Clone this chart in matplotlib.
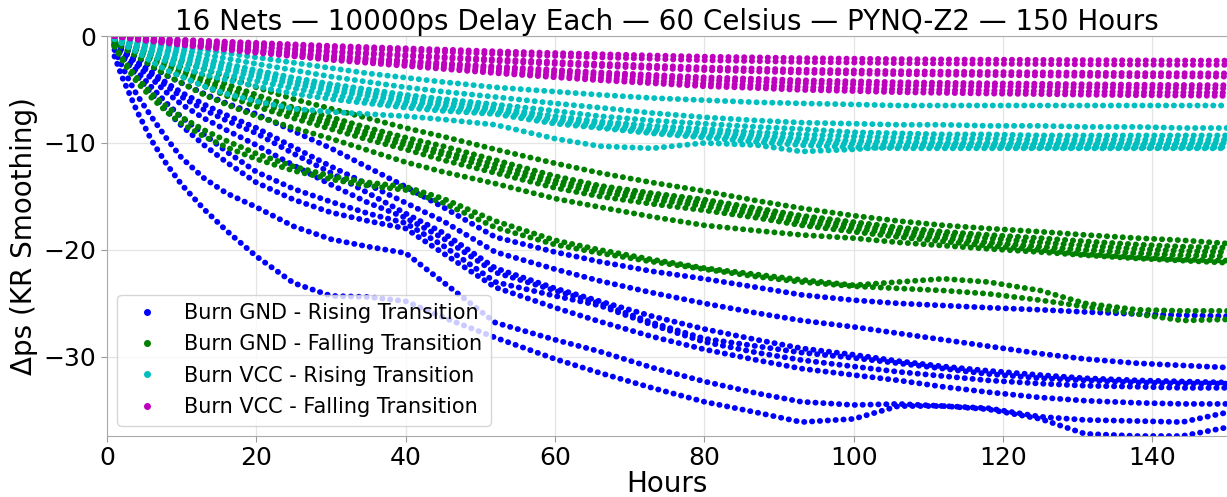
import matplotlib
matplotlib.use('Agg')
import matplotlib.pyplot as plt
from matplotlib.lines import Line2D

hours = [1, 2, 3, 4, 6, 8, 10, 13, 16, 20, 25, 30, 35, 40, 45, 52, 60, 66, 73, 80,
         87, 93, 100, 106, 112, 118, 125, 131, 138, 144, 150]

# Burn GND - Rising Transition (blue)
gnd_rise = [
    [-0.6, -1.0, -1.5, -2.0, -2.9, -3.7, -4.4, -5.4, -6.3, -7.3, -8.9, -10.5, -12.3, -14.1, -16.0, -18.8, -20.2, -21.1, -22.0, -22.7, -23.5, -24.2, -24.7, -25.0, -25.2, -25.4, -25.6, -25.8, -26.0, -26.1, -26.2],
    [-0.7, -1.2, -1.8, -2.4, -3.4, -4.4, -5.3, -6.4, -7.4, -8.6, -10.4, -12.2, -13.9, -15.6, -17.3, -20.2, -21.8, -22.9, -24.0, -25.0, -25.9, -26.6, -27.2, -27.8, -28.4, -29.0, -29.7, -30.2, -30.6, -30.8, -31.0],
    [-0.8, -1.3, -1.9, -2.5, -3.6, -4.7, -5.7, -6.9, -7.9, -9.1, -11.0, -12.8, -14.7, -16.6, -18.4, -21.7, -23.6, -24.8, -26.2, -27.4, -28.4, -29.2, -29.8, -30.4, -30.9, -31.3, -31.7, -32.0, -32.2, -32.3, -32.4],
    [-0.8, -1.4, -2.1, -2.8, -4.0, -5.3, -6.4, -7.7, -8.8, -10.2, -12.1, -13.9, -15.6, -17.0, -18.9, -22.1, -23.8, -25.0, -26.8, -28.3, -29.0, -29.6, -30.1, -30.6, -31.1, -31.6, -32.0, -32.2, -32.4, -32.5, -32.5],
    [-0.9, -1.7, -2.5, -3.3, -4.8, -6.3, -7.6, -9.2, -10.8, -12.7, -14.3, -15.5, -16.6, -17.5, -19.6, -23.0, -24.3, -25.2, -27.0, -28.6, -29.6, -30.3, -30.9, -31.4, -31.8, -32.2, -32.5, -32.7, -32.8, -32.9, -32.9],
    [-1.0, -1.9, -2.8, -3.7, -5.4, -7.0, -8.4, -10.2, -11.8, -13.7, -15.3, -16.5, -17.3, -18.0, -20.3, -23.5, -25.4, -26.7, -28.1, -29.3, -30.3, -31.1, -31.7, -32.2, -32.8, -33.3, -33.8, -34.1, -34.3, -34.4, -34.4],
    [-1.3, -2.8, -4.2, -5.5, -7.6, -9.6, -11.4, -13.3, -14.7, -16.0, -17.8, -19.0, -19.7, -20.3, -23.0, -26.8, -28.4, -29.5, -31.0, -32.3, -33.4, -34.2, -34.5, -34.4, -34.6, -34.8, -35.6, -35.9, -36.0, -36.1, -35.2],
    [-1.9, -3.8, -5.4, -7.0, -9.8, -12.0, -13.9, -16.2, -18.2, -20.6, -23.1, -24.3, -24.4, -24.8, -26.3, -28.2, -30.2, -31.5, -32.9, -34.2, -35.2, -36.1, -35.8, -34.6, -34.6, -34.9, -35.8, -37.2, -37.4, -37.4, -36.6],
]

# Burn GND - Falling Transition (green)
gnd_fall = [
    [-0.2, -0.5, -0.7, -1.0, -1.5, -2.0, -2.4, -3.1, -3.8, -4.8, -5.9, -6.8, -7.7, -8.6, -9.4, -10.6, -11.9, -12.8, -13.7, -14.5, -15.4, -16.1, -16.8, -17.3, -17.7, -18.0, -18.3, -18.6, -18.9, -19.1, -19.4],
    [-0.3, -0.6, -0.9, -1.2, -1.8, -2.4, -2.9, -3.7, -4.5, -5.5, -6.7, -7.6, -8.6, -9.5, -10.3, -11.6, -13.1, -14.0, -14.7, -15.3, -16.1, -16.8, -17.4, -17.9, -18.3, -18.6, -18.9, -19.2, -19.5, -19.7, -19.8],
    [-0.3, -0.7, -1.0, -1.3, -2.0, -2.6, -3.2, -4.1, -4.9, -5.9, -7.0, -8.0, -9.0, -9.9, -10.8, -12.0, -13.5, -14.3, -15.0, -15.6, -16.4, -17.1, -17.7, -18.2, -18.6, -18.9, -19.3, -19.6, -19.9, -20.1, -20.2],
    [-0.4, -0.8, -1.1, -1.5, -2.2, -2.9, -3.5, -4.4, -5.2, -6.2, -7.3, -8.3, -9.3, -10.2, -11.1, -12.4, -13.8, -14.6, -15.3, -15.9, -16.7, -17.4, -18.0, -18.5, -18.9, -19.3, -19.7, -20.0, -20.3, -20.5, -20.6],
    [-0.4, -0.9, -1.2, -1.6, -2.4, -3.2, -3.8, -4.7, -5.6, -6.6, -7.7, -8.7, -9.7, -10.6, -11.6, -12.8, -14.2, -15.0, -15.7, -16.3, -17.0, -17.7, -18.3, -18.8, -19.2, -19.6, -20.0, -20.4, -20.7, -20.9, -21.0],
    [-0.5, -1.0, -1.5, -1.9, -2.8, -3.7, -4.4, -5.5, -6.4, -7.5, -8.6, -9.6, -10.7, -11.8, -12.7, -13.8, -15.2, -16.0, -16.9, -17.7, -18.2, -18.6, -18.9, -19.3, -19.6, -19.9, -20.2, -20.5, -20.8, -21.0, -21.2],
    [-0.9, -2.0, -3.0, -3.9, -5.4, -6.6, -7.6, -8.8, -9.8, -11.0, -12.2, -13.1, -13.7, -14.1, -15.2, -17.3, -19.1, -20.0, -20.9, -21.7, -22.3, -22.8, -23.3, -23.0, -22.7, -23.0, -23.8, -25.0, -25.6, -25.7, -25.7],
    [-1.0, -2.2, -3.3, -4.3, -5.8, -7.1, -8.2, -9.4, -10.4, -11.5, -12.6, -13.4, -14.0, -14.4, -15.6, -17.9, -19.5, -20.3, -21.1, -21.8, -22.5, -23.0, -23.4, -23.6, -23.8, -24.1, -24.7, -25.3, -26.0, -26.6, -26.5],
]

# Burn VCC - Rising Transition (cyan)
vcc_rise = [
    [-0.1, -0.2, -0.3, -0.4, -0.6, -0.8, -1.0, -1.3, -1.6, -2.0, -2.5, -3.0, -3.5, -3.9, -4.3, -4.8, -5.2, -5.5, -5.8, -6.0, -6.2, -6.3, -6.4, -6.5, -6.5, -6.5, -6.5, -6.5, -6.5, -6.5, -6.5],
    [-0.1, -0.3, -0.4, -0.5, -0.8, -1.0, -1.3, -1.7, -2.1, -2.6, -3.2, -3.8, -4.3, -4.8, -5.2, -5.7, -6.3, -6.7, -7.2, -7.6, -7.9, -8.1, -8.2, -8.3, -8.3, -8.4, -8.4, -8.5, -8.5, -8.6, -8.6],
    [-0.1, -0.3, -0.5, -0.7, -1.0, -1.3, -1.6, -2.1, -2.6, -3.2, -3.9, -4.5, -5.0, -5.5, -5.9, -6.4, -7.0, -7.5, -7.9, -8.2, -8.5, -8.7, -9.0, -9.1, -9.2, -9.2, -9.3, -9.3, -9.3, -9.3, -9.3],
    [-0.1, -0.3, -0.6, -0.8, -1.2, -1.5, -1.9, -2.4, -2.9, -3.5, -4.2, -4.8, -5.3, -5.8, -6.2, -6.7, -7.5, -8.0, -8.4, -8.7, -9.0, -9.2, -9.4, -9.5, -9.6, -9.6, -9.7, -9.7, -9.7, -9.7, -9.7],
    [-0.2, -0.4, -0.7, -0.9, -1.4, -1.8, -2.2, -2.7, -3.2, -3.8, -4.5, -5.1, -5.6, -6.1, -6.5, -6.9, -7.8, -8.2, -8.7, -9.0, -9.3, -9.6, -9.8, -9.9, -10.0, -10.0, -10.0, -10.0, -10.0, -10.0, -10.0],
    [-0.2, -0.4, -0.8, -1.0, -1.6, -2.1, -2.6, -3.1, -3.6, -4.2, -4.9, -5.5, -6.0, -6.4, -6.8, -7.1, -8.0, -8.5, -8.9, -9.3, -9.6, -9.9, -10.1, -10.2, -10.2, -10.2, -10.2, -10.2, -10.2, -10.2, -10.2],
    [-0.2, -0.5, -0.9, -1.2, -1.9, -2.4, -3.0, -3.6, -4.1, -4.7, -5.4, -5.9, -6.3, -6.7, -7.0, -7.3, -8.2, -8.6, -9.1, -9.5, -9.9, -10.2, -10.4, -10.5, -10.5, -10.5, -10.5, -10.5, -10.5, -10.5, -10.5],
    [-0.3, -0.7, -1.1, -1.5, -2.4, -3.2, -3.8, -4.7, -5.4, -6.1, -6.8, -7.1, -7.3, -7.5, -7.8, -8.3, -9.6, -10.3, -10.5, -10.0, -10.2, -10.8, -10.6, -10.3, -10.3, -10.3, -10.4, -10.4, -10.4, -10.4, -10.4],
]

# Burn VCC - Falling Transition (magenta)
vcc_fall = [
    [0.0, -0.05, -0.09, -0.14, -0.21, -0.28, -0.35, -0.44, -0.53, -0.64, -0.78, -0.92, -1.04, -1.15, -1.27, -1.43, -1.59, -1.70, -1.82, -1.93, -2.0, -2.07, -2.12, -2.16, -2.19, -2.21, -2.23, -2.25, -2.28, -2.29, -2.3],
    [0.0, -0.05, -0.11, -0.16, -0.24, -0.32, -0.41, -0.51, -0.62, -0.76, -0.92, -1.08, -1.22, -1.35, -1.49, -1.67, -1.86, -2.0, -2.13, -2.27, -2.35, -2.43, -2.48, -2.54, -2.57, -2.59, -2.62, -2.65, -2.67, -2.69, -2.7],
    [0.0, -0.07, -0.14, -0.21, -0.32, -0.42, -0.53, -0.67, -0.81, -0.98, -1.19, -1.4, -1.58, -1.75, -1.93, -2.17, -2.42, -2.59, -2.77, -2.94, -3.05, -3.15, -3.22, -3.29, -3.33, -3.36, -3.4, -3.43, -3.47, -3.48, -3.5],
    [0.0, -0.08, -0.15, -0.23, -0.34, -0.46, -0.57, -0.72, -0.87, -1.06, -1.29, -1.52, -1.71, -1.9, -2.09, -2.36, -2.62, -2.81, -3.0, -3.19, -3.31, -3.42, -3.5, -3.57, -3.61, -3.65, -3.69, -3.72, -3.76, -3.78, -3.8],
    [0.0, -0.09, -0.18, -0.28, -0.41, -0.55, -0.69, -0.87, -1.06, -1.29, -1.56, -1.84, -2.07, -2.3, -2.53, -2.85, -3.17, -3.4, -3.63, -3.86, -4.0, -4.14, -4.23, -4.32, -4.37, -4.42, -4.46, -4.51, -4.55, -4.58, -4.6],
    [0.0, -0.1, -0.2, -0.29, -0.44, -0.59, -0.74, -0.93, -1.13, -1.37, -1.67, -1.96, -2.21, -2.45, -2.7, -3.04, -3.38, -3.63, -3.87, -4.12, -4.26, -4.41, -4.51, -4.61, -4.66, -4.7, -4.75, -4.8, -4.85, -4.88, -4.9],
    [0.0, -0.11, -0.21, -0.32, -0.48, -0.64, -0.8, -1.01, -1.22, -1.48, -1.8, -2.12, -2.39, -2.65, -2.92, -3.29, -3.66, -3.92, -4.19, -4.45, -4.61, -4.77, -4.88, -4.98, -5.04, -5.09, -5.14, -5.19, -5.25, -5.27, -5.3],
    [0.0, -0.11, -0.22, -0.34, -0.5, -0.67, -0.84, -1.06, -1.29, -1.57, -1.9, -2.24, -2.52, -2.8, -3.08, -3.47, -3.86, -4.14, -4.42, -4.7, -4.87, -5.04, -5.15, -5.26, -5.32, -5.38, -5.43, -5.49, -5.54, -5.57, -5.6],
]

labels = ['Burn GND - Rising Transition', 'Burn GND - Falling Transition',
          'Burn VCC - Rising Transition', 'Burn VCC - Falling Transition']
colors = ['b', 'g', 'c', 'm']

fig = plt.figure(figsize=(12.27, 4.97), dpi=100)
ax = fig.add_axes([107 / 1227, 61 / 497, 1120 / 1227, 400 / 497])

for curves, col in zip([gnd_rise, gnd_fall, vcc_rise, vcc_fall], colors):
    for vals in curves:
        # dotted line of round dots, one dot roughly every hour
        ax.plot(hours, vals, color=col, lw=4.2, linestyle=(0, (0.05, 1.3)),
                dash_capstyle='round')

handles = [Line2D([], [], color=c, marker='o', ls='', markersize=4) for c in colors]
ax.legend(handles, labels, loc='lower left', fontsize=15, labelspacing=0.55)

ax.set_xlim(0, 150)
ax.set_ylim(-37.4, 0)
ax.set_xticks(range(0, 150, 20))
ax.set_yticks([0, -10, -20, -30])
ax.tick_params(labelsize=18, color='#999999', length=4)
ax.grid(True, color='#e4e4e4', lw=0.9)
ax.set_axisbelow(True)
for side in ['left', 'bottom', 'top']:
    ax.spines[side].set_color('#aaaaaa')
ax.spines['right'].set_visible(False)

ax.set_title('16 Nets — 10000ps Delay Each — 60 Celsius — PYNQ-Z2 — 150 Hours',
             fontsize=20, pad=4)
ax.set_xlabel('Hours', fontsize=20, labelpad=0)
ax.set_ylabel('Δps (KR Smoothing)', fontsize=20)

fig.savefig('out.png', dpi=100)
